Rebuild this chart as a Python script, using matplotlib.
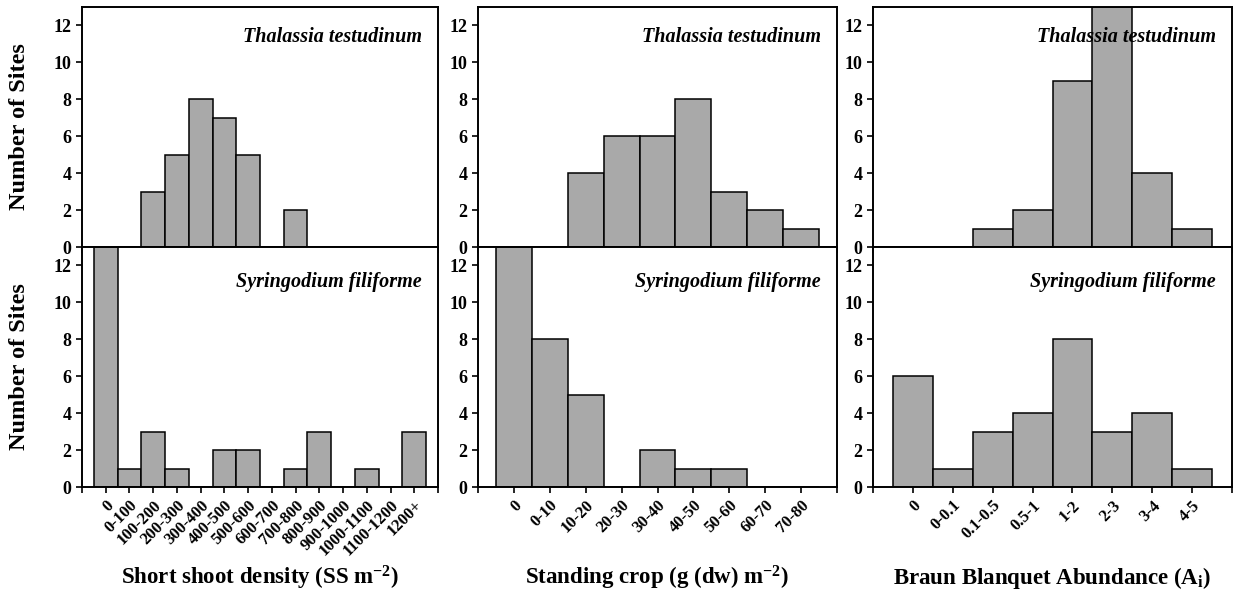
import matplotlib
matplotlib.use("Agg")
import matplotlib.pyplot as plt
import numpy as np

plt.rcParams['font.family'] = ['Liberation Serif', 'DejaVu Serif']
plt.rcParams['font.weight'] = 'bold'
plt.rcParams['mathtext.fontset'] = 'custom'
plt.rcParams['mathtext.rm'] = 'Liberation Serif:bold'
plt.rcParams['mathtext.it'] = 'Liberation Serif:bold:italic'
plt.rcParams['mathtext.bf'] = 'Liberation Serif:bold'

# short shoot density classes
ss_labels = ["0", "0-100", "100-200", "200-300", "300-400", "400-500", "500-600",
             "600-700", "700-800", "800-900", "900-1000", "1000-1100", "1100-1200", "1200+"]
ss_thalassia = [0, 0, 3, 5, 8, 7, 5, 0, 2, 0, 0, 0, 0, 0]
ss_syringodium = [13, 1, 3, 1, 0, 2, 2, 0, 1, 3, 0, 1, 0, 3]

# standing crop classes
sc_labels = ["0", "0-10", "10-20", "20-30", "30-40", "40-50", "50-60", "60-70", "70-80"]
sc_thalassia = [0, 0, 4, 6, 6, 8, 3, 2, 1]
sc_syringodium = [13, 8, 5, 0, 2, 1, 1, 0, 0]

# Braun Blanquet abundance classes
bb_labels = ["0", "0-0.1", "0.1-0.5", "0.5-1", "1-2", "2-3", "3-4", "4-5"]
bb_thalassia = [0, 0, 1, 2, 9, 13, 4, 1]
bb_syringodium = [6, 1, 3, 4, 8, 3, 4, 1]

xlabels = ["Short shoot density (SS m$^{-2}$)",
           "Standing crop (g (dw) m$^{-2}$)",
           "Braun Blanquet Abundance (A$_\\mathrm{i}$)"]

W, H = 1239, 596
fig = plt.figure(figsize=(W / 100, H / 100), dpi=100)

cols = [(82, 438), (478, 837), (873, 1232)]
rows = [(7, 247), (247, 487)]

panels = [
    (ss_labels, ss_thalassia, ss_syringodium),
    (sc_labels, sc_thalassia, sc_syringodium),
    (bb_labels, bb_thalassia, bb_syringodium),
]

bar_color = '#a9a9a9'

for c, (labels, top_vals, bot_vals) in enumerate(panels):
    x0, x1 = cols[c]
    n = len(labels)
    xs = np.arange(n)
    for r, vals in enumerate([top_vals, bot_vals]):
        y0, y1 = rows[r]
        ax = fig.add_axes([x0 / W, 1 - y1 / H, (x1 - x0) / W, (y1 - y0) / H])
        ax.bar(xs, vals, width=1.0, color=bar_color, edgecolor='black', linewidth=1.1)
        ax.set_xlim(-1, n)
        ax.set_ylim(0, 13)
        ax.set_yticks(range(0, 13, 2))
        ax.set_xticks(np.arange(-1, n + 1))
        for s in ax.spines.values():
            s.set_linewidth(1.4)
        ax.tick_params(direction='out', length=4, width=1.2, labelsize=13)
        if r == 0:
            ax.set_xticklabels([])
            name = "Thalassia testudinum"
            ty = 0.875
        else:
            ax.set_xticklabels([""] + labels + [""], rotation=45, ha='right',
                               va='top', rotation_mode='anchor', fontsize=12)
            name = "Syringodium filiforme"
            ty = 0.855
        ax.text(0.955, ty, name, transform=ax.transAxes, ha='right', va='center',
                fontsize=14.5, fontstyle='italic', fontweight='bold')
        if c == 0:
            fig.text(20 / W, 1 - ((y0 + y1) / 2) / H, "Number of Sites",
                     rotation=90, ha='center', va='center', fontsize=17.5)
    fig.text(((x0 + x1) / 2) / W, 1 - 578 / H, xlabels[c],
             ha='center', va='center', fontsize=16.5)

fig.savefig("out.png", dpi=100)
